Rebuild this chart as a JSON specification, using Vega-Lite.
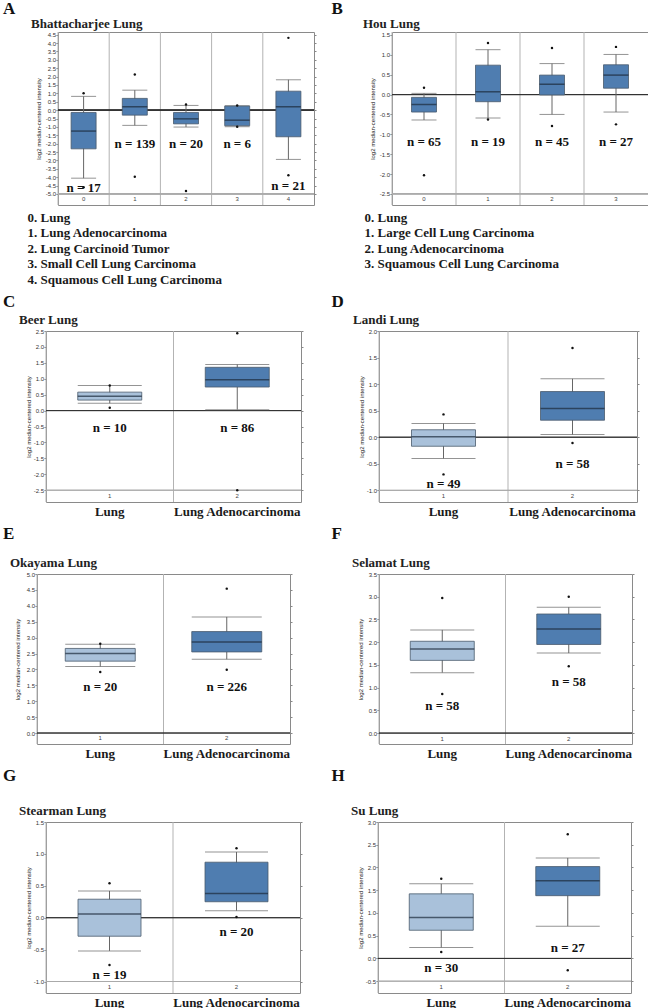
{
"$schema": "https://vega.github.io/schema/vega-lite/v6.json",
"background": "white",
"padding": {"left": 3, "top": 0, "right": 0, "bottom": 0},
"columns": 1,
"align": "none",
"spacing": 5,
"config": {
 "view": {"stroke": "#8a8a8a", "strokeWidth": 1},
 "locale": {"number": {"decimal": ".", "thousands": ",", "grouping": [3], "currency": ["$", ""], "minus": "-"}},
 "axis": {"labelFont": "Liberation Sans", "titleFont": "Liberation Sans"}
},
"concat": [
{"hconcat": [
 {"title": {"text": "A", "anchor": "start", "font": "Liberation Serif", "fontSize": 17, "fontWeight": "bold", "color": "#111", "offset": -1},
  "spacing": 0,
  "hconcat": [
  {"width": 23, "height": 1, "view": {"stroke": null}, "data": {"values": []}, "mark": {"type": "point", "opacity": 0}, "encoding": {}},
  {
  "width": 256, "height": 173,
  "title": {"text": "Bhattacharjee Lung", "anchor": "start", "frame": "group", "dx": -27, "font": "Liberation Serif", "fontSize": 13, "fontWeight": "bold", "color": "#222", "offset": 1},
  "data": {"values": [
   {"cat": "Lung", "code": "0", "q1": -2.31, "q3": -0.14, "med": -1.25, "lo": -4.06, "hi": 0.82, "mn": -4.6, "mx": 1.01, "nlabel": "n = 17", "ny": -4.63},
   {"cat": "Lung Adenocarcinoma", "code": "1", "q1": -0.30, "q3": 0.70, "med": 0.20, "lo": -0.91, "hi": 1.19, "mn": -3.98, "mx": 2.13, "nlabel": "n = 139", "ny": -2.0},
   {"cat": "Lung Carcinoid Tumor", "code": "2", "q1": -0.82, "q3": -0.14, "med": -0.52, "lo": -1.01, "hi": 0.28, "mn": -4.83, "mx": 0.34, "nlabel": "n = 20", "ny": -2.0},
   {"cat": "Small Cell Lung Carcinoma", "code": "3", "q1": -0.93, "q3": 0.24, "med": -0.60, "lo": -0.99, "hi": 0.26, "mn": -0.99, "mx": 0.28, "nlabel": "n = 6", "ny": -2.0},
   {"cat": "Squamous Cell Lung Carcinoma", "code": "4", "q1": -1.59, "q3": 1.13, "med": 0.20, "lo": -2.94, "hi": 1.81, "mn": -3.88, "mx": 4.31, "nlabel": "n = 21", "ny": -4.5}
  ]},
  "resolve": {"axis": {"x": "independent", "y": "independent"}},
  "layer": [
   {"mark": {"type": "rule", "color": "#b3b3b3", "strokeWidth": 1}, "encoding": {"x": {"field": "cat", "type": "nominal", "sort": null, "bandPosition": 0, "scale": {"type": "band", "paddingInner": 0, "paddingOuter": 0}, "axis": null}}},
   {"mark": {"type": "rule", "color": "#aaaaaa", "strokeWidth": 1}, "encoding": {"y": {"datum": -5.0, "type": "quantitative", "axis": null}}},
   {"mark": {"type": "rule", "color": "#333333", "strokeWidth": 1}, "encoding": {"y": {"datum": 0, "type": "quantitative", "axis": null}}},
   {"mark": {"type": "rule", "color": "#666666", "strokeWidth": 1}, "encoding": {"x": {"field": "cat", "type": "nominal", "sort": null, "scale": {"type": "band", "paddingInner": 0, "paddingOuter": 0}, "axis": null}, "y": {"field": "lo", "type": "quantitative", "axis": {"orient": "right", "values": [4.5,4,3.5,3,2.5,2,1.5,1,0.5,0,-0.5,-1,-1.5,-2,-2.5,-3,-3.5,-4,-4.5,-5], "labels": false, "tickSize": 2, "tickColor": "#888888", "domain": false, "grid": false, "title": null}}, "y2": {"field": "hi"}}},
   {"mark": {"type": "tick", "color": "#666666", "thickness": 1, "size": 25}, "encoding": {"x": {"field": "cat", "type": "nominal", "sort": null, "scale": {"type": "band", "paddingInner": 0, "paddingOuter": 0}, "axis": null}, "y": {"field": "hi", "type": "quantitative", "axis": null}}},
   {"mark": {"type": "tick", "color": "#666666", "thickness": 1, "size": 25}, "encoding": {"x": {"field": "cat", "type": "nominal", "sort": null, "scale": {"type": "band", "paddingInner": 0, "paddingOuter": 0}, "axis": null}, "y": {"field": "lo", "type": "quantitative", "axis": null}}},
   {"mark": {"type": "bar", "width": 25, "fill": "#4f7db0", "stroke": "#4a5a6c", "strokeWidth": 0.8}, "encoding": {"x": {"field": "cat", "type": "nominal", "sort": null, "scale": {"type": "band", "paddingInner": 0, "paddingOuter": 0}, "axis": {"labels": false, "ticks": false, "domain": false, "title": ["0. Lung", "1. Lung Adenocarcinoma", "2. Lung Carcinoid Tumor", "3. Small Cell Lung Carcinoma", "4. Squamous Cell Lung Carcinoma"], "titleAnchor": "start", "titleAlign": "left", "titleBaseline": "top", "titleX": -31, "titleY": 6, "titleFont": "Liberation Serif", "titleFontSize": 13, "titleFontWeight": "bold", "titleColor": "#1a1a1a", "titleLineHeight": 15.6}}, "y": {"field": "q1", "type": "quantitative", "scale": {"domain": [-5.66, 4.66], "nice": false, "zero": false}, "axis": {"orient": "left", "values": [4.5,4,3.5,3,2.5,2,1.5,1,0.5,0,-0.5,-1,-1.5,-2,-2.5,-3,-3.5,-4,-4.5,-5], "format": ".1f", "labelFontSize": 6, "labelColor": "#333333", "labelPadding": 0.5, "tickSize": 2, "tickColor": "#777777", "domain": false, "grid": false, "title": "log2 median-centered intensity", "titleFontSize": 6, "titleFontWeight": "normal", "titleColor": "#222222", "titlePadding": 4}}, "y2": {"field": "q3"}}},
   {"mark": {"type": "tick", "color": "#1c2b3c", "thickness": 1.5, "size": 25}, "encoding": {"x": {"field": "cat", "type": "nominal", "sort": null, "scale": {"type": "band", "paddingInner": 0, "paddingOuter": 0}, "axis": null}, "y": {"field": "med", "type": "quantitative", "axis": null}}},
   {"mark": {"type": "point", "filled": true, "color": "#111111", "size": 6, "opacity": 1}, "encoding": {"x": {"field": "cat", "type": "nominal", "sort": null, "scale": {"type": "band", "paddingInner": 0, "paddingOuter": 0}, "axis": null}, "y": {"field": "mx", "type": "quantitative", "axis": null}}},
   {"mark": {"type": "point", "filled": true, "color": "#111111", "size": 6, "opacity": 1}, "encoding": {"x": {"field": "cat", "type": "nominal", "sort": null, "scale": {"type": "band", "paddingInner": 0, "paddingOuter": 0}, "axis": null}, "y": {"field": "mn", "type": "quantitative", "axis": null}}},
   {"mark": {"type": "text", "font": "Liberation Serif", "fontSize": 13, "fontWeight": "bold", "color": "#111111", "baseline": "middle"}, "encoding": {"x": {"field": "cat", "type": "nominal", "sort": null, "scale": {"type": "band", "paddingInner": 0, "paddingOuter": 0}, "axis": null}, "y": {"field": "ny", "type": "quantitative", "axis": null}, "text": {"field": "nlabel"}}},
   {"mark": {"type": "text", "font": "Liberation Sans", "fontSize": 6, "color": "#444444", "baseline": "middle"}, "encoding": {"x": {"field": "cat", "type": "nominal", "sort": null, "scale": {"type": "band", "paddingInner": 0, "paddingOuter": 0}, "axis": null}, "y": {"datum": -5.33, "type": "quantitative", "axis": null}, "text": {"field": "code"}}}
  ]}]},
 {"title": {"text": "B", "anchor": "start", "font": "Liberation Serif", "fontSize": 17, "fontWeight": "bold", "color": "#111", "offset": -1, "dx": -31},
  "vconcat": [{
  "width": 256, "height": 173,
  "title": {"text": "Hou Lung", "anchor": "start", "frame": "group", "dx": -29, "font": "Liberation Serif", "fontSize": 13, "fontWeight": "bold", "color": "#222", "offset": 1},
  "data": {"values": [
   {"cat": "Lung", "code": "0", "q1": -0.44, "q3": -0.07, "med": -0.25, "lo": -0.64, "hi": 0.03, "mn": -2.03, "mx": 0.17, "nlabel": "n = 65", "ny": -1.19},
   {"cat": "Large Cell Lung Carcinoma", "code": "1", "q1": -0.18, "q3": 0.74, "med": 0.07, "lo": -0.59, "hi": 1.13, "mn": -0.63, "mx": 1.30, "nlabel": "n = 19", "ny": -1.19},
   {"cat": "Lung Adenocarcinoma", "code": "2", "q1": -0.01, "q3": 0.49, "med": 0.26, "lo": -0.50, "hi": 0.78, "mn": -0.79, "mx": 1.17, "nlabel": "n = 45", "ny": -1.19},
   {"cat": "Squamous Cell Lung Carcinoma", "code": "3", "q1": 0.16, "q3": 0.75, "med": 0.49, "lo": -0.44, "hi": 1.01, "mn": -0.75, "mx": 1.20, "nlabel": "n = 27", "ny": -1.19}
  ]},
  "resolve": {"axis": {"x": "independent", "y": "independent"}},
  "layer": [
   {"mark": {"type": "rule", "color": "#b3b3b3", "strokeWidth": 1}, "encoding": {"x": {"field": "cat", "type": "nominal", "sort": null, "bandPosition": 0, "scale": {"type": "band", "paddingInner": 0, "paddingOuter": 0}, "axis": null}}},
   {"mark": {"type": "rule", "color": "#aaaaaa", "strokeWidth": 1}, "encoding": {"y": {"datum": -2.5, "type": "quantitative", "axis": null}}},
   {"mark": {"type": "rule", "color": "#333333", "strokeWidth": 1}, "encoding": {"y": {"datum": 0, "type": "quantitative", "axis": null}}},
   {"mark": {"type": "rule", "color": "#666666", "strokeWidth": 1}, "encoding": {"x": {"field": "cat", "type": "nominal", "sort": null, "scale": {"type": "band", "paddingInner": 0, "paddingOuter": 0}, "axis": null}, "y": {"field": "lo", "type": "quantitative", "axis": {"orient": "right", "values": [1.5,1,0.5,0,-0.5,-1,-1.5,-2,-2.5], "labels": false, "tickSize": 2, "tickColor": "#888888", "domain": false, "grid": false, "title": null}}, "y2": {"field": "hi"}}},
   {"mark": {"type": "tick", "color": "#666666", "thickness": 1, "size": 25}, "encoding": {"x": {"field": "cat", "type": "nominal", "sort": null, "scale": {"type": "band", "paddingInner": 0, "paddingOuter": 0}, "axis": null}, "y": {"field": "hi", "type": "quantitative", "axis": null}}},
   {"mark": {"type": "tick", "color": "#666666", "thickness": 1, "size": 25}, "encoding": {"x": {"field": "cat", "type": "nominal", "sort": null, "scale": {"type": "band", "paddingInner": 0, "paddingOuter": 0}, "axis": null}, "y": {"field": "lo", "type": "quantitative", "axis": null}}},
   {"mark": {"type": "bar", "width": 25, "fill": "#4f7db0", "stroke": "#4a5a6c", "strokeWidth": 0.8}, "encoding": {"x": {"field": "cat", "type": "nominal", "sort": null, "scale": {"type": "band", "paddingInner": 0, "paddingOuter": 0}, "axis": {"labels": false, "ticks": false, "domain": false, "title": ["0. Lung", "1. Large Cell Lung Carcinoma", "2. Lung Adenocarcinoma", "3. Squamous Cell Lung Carcinoma"], "titleAnchor": "start", "titleAlign": "left", "titleBaseline": "top", "titleX": -28, "titleY": 6, "titleFont": "Liberation Serif", "titleFontSize": 13, "titleFontWeight": "bold", "titleColor": "#1a1a1a", "titleLineHeight": 15.6}}, "y": {"field": "q1", "type": "quantitative", "scale": {"domain": [-2.78, 1.575], "nice": false, "zero": false}, "axis": {"orient": "left", "values": [1.5,1,0.5,0,-0.5,-1,-1.5,-2,-2.5], "format": ".1f", "labelFontSize": 6, "labelColor": "#333333", "labelPadding": 0.5, "tickSize": 2, "tickColor": "#777777", "domain": false, "grid": false, "title": "log2 median-centered intensity", "titleFontSize": 6, "titleFontWeight": "normal", "titleColor": "#222222", "titlePadding": 4}}, "y2": {"field": "q3"}}},
   {"mark": {"type": "tick", "color": "#1c2b3c", "thickness": 1.5, "size": 25}, "encoding": {"x": {"field": "cat", "type": "nominal", "sort": null, "scale": {"type": "band", "paddingInner": 0, "paddingOuter": 0}, "axis": null}, "y": {"field": "med", "type": "quantitative", "axis": null}}},
   {"mark": {"type": "point", "filled": true, "color": "#111111", "size": 6, "opacity": 1}, "encoding": {"x": {"field": "cat", "type": "nominal", "sort": null, "scale": {"type": "band", "paddingInner": 0, "paddingOuter": 0}, "axis": null}, "y": {"field": "mx", "type": "quantitative", "axis": null}}},
   {"mark": {"type": "point", "filled": true, "color": "#111111", "size": 6, "opacity": 1}, "encoding": {"x": {"field": "cat", "type": "nominal", "sort": null, "scale": {"type": "band", "paddingInner": 0, "paddingOuter": 0}, "axis": null}, "y": {"field": "mn", "type": "quantitative", "axis": null}}},
   {"mark": {"type": "text", "font": "Liberation Serif", "fontSize": 13, "fontWeight": "bold", "color": "#111111", "baseline": "middle"}, "encoding": {"x": {"field": "cat", "type": "nominal", "sort": null, "scale": {"type": "band", "paddingInner": 0, "paddingOuter": 0}, "axis": null}, "y": {"field": "ny", "type": "quantitative", "axis": null}, "text": {"field": "nlabel"}}},
   {"mark": {"type": "text", "font": "Liberation Sans", "fontSize": 6, "color": "#444444", "baseline": "middle"}, "encoding": {"x": {"field": "cat", "type": "nominal", "sort": null, "scale": {"type": "band", "paddingInner": 0, "paddingOuter": 0}, "axis": null}, "y": {"datum": -2.64, "type": "quantitative", "axis": null}, "text": {"field": "code"}}}
  ]}]}
], "spacing": 14},
{"hconcat": [
 {"title": {"text": "C", "anchor": "start", "font": "Liberation Serif", "fontSize": 17, "fontWeight": "bold", "color": "#111", "offset": 2.6},
  "spacing": 0,
  "hconcat": [
  {"width": 15, "height": 1, "view": {"stroke": null}, "data": {"values": []}, "mark": {"type": "point", "opacity": 0}, "encoding": {}},
  {
  "width": 255, "height": 171,
  "title": {"text": "Beer Lung", "anchor": "start", "frame": "group", "dx": -27, "font": "Liberation Serif", "fontSize": 13, "fontWeight": "bold", "color": "#222", "offset": 1},
  "data": {"values": [
   {"cat": "Lung", "code": "1", "q1": 0.33, "q3": 0.58, "med": 0.45, "lo": 0.23, "hi": 0.79, "mn": 0.09, "mx": 0.79, "nlabel": "n = 10", "ny": -0.54},
   {"cat": "Lung Adenocarcinoma", "code": "2", "q1": 0.74, "q3": 1.36, "med": 0.97, "lo": 0.03, "hi": 1.45, "mn": -2.5, "mx": 2.43, "nlabel": "n = 86", "ny": -0.54}
  ]},
  "resolve": {"axis": {"x": "independent", "y": "independent"}},
  "layer": [
   {"mark": {"type": "rule", "color": "#b3b3b3", "strokeWidth": 1}, "encoding": {"x": {"field": "cat", "type": "nominal", "sort": null, "bandPosition": 0, "scale": {"type": "band", "paddingInner": 0, "paddingOuter": 0}, "axis": null}}},
   {"mark": {"type": "rule", "color": "#aaaaaa", "strokeWidth": 1}, "encoding": {"y": {"datum": -2.5, "type": "quantitative", "axis": null}}},
   {"mark": {"type": "rule", "color": "#333333", "strokeWidth": 1}, "encoding": {"y": {"datum": 0, "type": "quantitative", "axis": null}}},
   {"mark": {"type": "rule", "color": "#666666", "strokeWidth": 1}, "encoding": {"x": {"field": "cat", "type": "nominal", "sort": null, "scale": {"type": "band", "paddingInner": 0, "paddingOuter": 0}, "axis": null}, "y": {"field": "lo", "type": "quantitative", "axis": {"orient": "right", "values": [2.5,2,1.5,1,0.5,0,-0.5,-1,-1.5,-2,-2.5], "labels": false, "tickSize": 2, "tickColor": "#888888", "domain": false, "grid": false, "title": null}}, "y2": {"field": "hi"}}},
   {"mark": {"type": "tick", "color": "#666666", "thickness": 1, "size": 64}, "encoding": {"x": {"field": "cat", "type": "nominal", "sort": null, "scale": {"type": "band", "paddingInner": 0, "paddingOuter": 0}, "axis": null}, "y": {"field": "hi", "type": "quantitative", "axis": null}}},
   {"mark": {"type": "tick", "color": "#666666", "thickness": 1, "size": 64}, "encoding": {"x": {"field": "cat", "type": "nominal", "sort": null, "scale": {"type": "band", "paddingInner": 0, "paddingOuter": 0}, "axis": null}, "y": {"field": "lo", "type": "quantitative", "axis": null}}},
   {"mark": {"type": "bar", "width": 64, "stroke": "#4a5a6c", "strokeWidth": 0.8}, "encoding": {"fill": {"field": "cat", "type": "nominal", "scale": {"domain": ["Lung", "Lung Adenocarcinoma"], "range": ["#a9c1da", "#4f7db0"]}, "legend": null}, "x": {"field": "cat", "type": "nominal", "sort": null, "scale": {"type": "band", "paddingInner": 0, "paddingOuter": 0}, "axis": {"title": null, "orient": "bottom", "ticks": false, "domain": false, "labelAngle": 0, "labelFont": "Liberation Serif", "labelFontSize": 13, "labelFontWeight": "bold", "labelColor": "#1a1a1a", "labelPadding": 3, "labelBaseline": "top"}}, "y": {"field": "q1", "type": "quantitative", "scale": {"domain": [-2.87, 2.5], "nice": false, "zero": false}, "axis": {"orient": "left", "values": [2.5,2,1.5,1,0.5,0,-0.5,-1,-1.5,-2,-2.5], "format": ".1f", "labelFontSize": 6, "labelColor": "#333333", "labelPadding": 0.5, "tickSize": 2, "tickColor": "#777777", "domain": false, "grid": false, "title": "log2 median-centered intensity", "titleFontSize": 6, "titleFontWeight": "normal", "titleColor": "#222222", "titlePadding": 2}}, "y2": {"field": "q3"}}},
   {"mark": {"type": "tick", "color": "#1c2b3c", "thickness": 1.5, "size": 64}, "encoding": {"x": {"field": "cat", "type": "nominal", "sort": null, "scale": {"type": "band", "paddingInner": 0, "paddingOuter": 0}, "axis": null}, "y": {"field": "med", "type": "quantitative", "axis": null}}},
   {"mark": {"type": "point", "filled": true, "color": "#111111", "size": 6, "opacity": 1}, "encoding": {"x": {"field": "cat", "type": "nominal", "sort": null, "scale": {"type": "band", "paddingInner": 0, "paddingOuter": 0}, "axis": null}, "y": {"field": "mx", "type": "quantitative", "axis": null}}},
   {"mark": {"type": "point", "filled": true, "color": "#111111", "size": 6, "opacity": 1}, "encoding": {"x": {"field": "cat", "type": "nominal", "sort": null, "scale": {"type": "band", "paddingInner": 0, "paddingOuter": 0}, "axis": null}, "y": {"field": "mn", "type": "quantitative", "axis": null}}},
   {"mark": {"type": "text", "font": "Liberation Serif", "fontSize": 13, "fontWeight": "bold", "color": "#111111", "baseline": "middle"}, "encoding": {"x": {"field": "cat", "type": "nominal", "sort": null, "scale": {"type": "band", "paddingInner": 0, "paddingOuter": 0}, "axis": null}, "y": {"field": "ny", "type": "quantitative", "axis": null}, "text": {"field": "nlabel"}}},
   {"mark": {"type": "text", "font": "Liberation Sans", "fontSize": 6, "color": "#444444", "baseline": "middle"}, "encoding": {"x": {"field": "cat", "type": "nominal", "sort": null, "scale": {"type": "band", "paddingInner": 0, "paddingOuter": 0}, "axis": null}, "y": {"datum": -2.69, "type": "quantitative", "axis": null}, "text": {"field": "code"}}}
  ]}]},
 {"title": {"text": "D", "anchor": "start", "font": "Liberation Serif", "fontSize": 17, "fontWeight": "bold", "color": "#111", "offset": 2.6, "dx": -21},
  "vconcat": [{
  "width": 258, "height": 171,
  "title": {"text": "Landi Lung", "anchor": "start", "frame": "group", "dx": -26, "font": "Liberation Serif", "fontSize": 13, "fontWeight": "bold", "color": "#222", "offset": 1},
  "data": {"values": [
   {"cat": "Lung", "code": "1", "q1": -0.17, "q3": 0.14, "med": 0.01, "lo": -0.40, "hi": 0.26, "mn": -0.70, "mx": 0.43, "nlabel": "n = 49", "ny": -0.89},
   {"cat": "Lung Adenocarcinoma", "code": "2", "q1": 0.32, "q3": 0.86, "med": 0.54, "lo": 0.05, "hi": 1.10, "mn": -0.11, "mx": 1.68, "nlabel": "n = 58", "ny": -0.51}
  ]},
  "resolve": {"axis": {"x": "independent", "y": "independent"}},
  "layer": [
   {"mark": {"type": "rule", "color": "#b3b3b3", "strokeWidth": 1}, "encoding": {"x": {"field": "cat", "type": "nominal", "sort": null, "bandPosition": 0, "scale": {"type": "band", "paddingInner": 0, "paddingOuter": 0}, "axis": null}}},
   {"mark": {"type": "rule", "color": "#aaaaaa", "strokeWidth": 1}, "encoding": {"y": {"datum": -1.0, "type": "quantitative", "axis": null}}},
   {"mark": {"type": "rule", "color": "#333333", "strokeWidth": 1}, "encoding": {"y": {"datum": 0, "type": "quantitative", "axis": null}}},
   {"mark": {"type": "rule", "color": "#666666", "strokeWidth": 1}, "encoding": {"x": {"field": "cat", "type": "nominal", "sort": null, "scale": {"type": "band", "paddingInner": 0, "paddingOuter": 0}, "axis": null}, "y": {"field": "lo", "type": "quantitative", "axis": {"orient": "right", "values": [2,1.5,1,0.5,0,-0.5,-1], "labels": false, "tickSize": 2, "tickColor": "#888888", "domain": false, "grid": false, "title": null}}, "y2": {"field": "hi"}}},
   {"mark": {"type": "tick", "color": "#666666", "thickness": 1, "size": 64}, "encoding": {"x": {"field": "cat", "type": "nominal", "sort": null, "scale": {"type": "band", "paddingInner": 0, "paddingOuter": 0}, "axis": null}, "y": {"field": "hi", "type": "quantitative", "axis": null}}},
   {"mark": {"type": "tick", "color": "#666666", "thickness": 1, "size": 64}, "encoding": {"x": {"field": "cat", "type": "nominal", "sort": null, "scale": {"type": "band", "paddingInner": 0, "paddingOuter": 0}, "axis": null}, "y": {"field": "lo", "type": "quantitative", "axis": null}}},
   {"mark": {"type": "bar", "width": 64, "stroke": "#4a5a6c", "strokeWidth": 0.8}, "encoding": {"fill": {"field": "cat", "type": "nominal", "scale": {"domain": ["Lung", "Lung Adenocarcinoma"], "range": ["#a9c1da", "#4f7db0"]}, "legend": null}, "x": {"field": "cat", "type": "nominal", "sort": null, "scale": {"type": "band", "paddingInner": 0, "paddingOuter": 0}, "axis": {"title": null, "orient": "bottom", "ticks": false, "domain": false, "labelAngle": 0, "labelFont": "Liberation Serif", "labelFontSize": 13, "labelFontWeight": "bold", "labelColor": "#1a1a1a", "labelPadding": 3, "labelBaseline": "top"}}, "y": {"field": "q1", "type": "quantitative", "scale": {"domain": [-1.22, 2.0], "nice": false, "zero": false}, "axis": {"orient": "left", "values": [2,1.5,1,0.5,0,-0.5,-1], "format": ".1f", "labelFontSize": 6, "labelColor": "#333333", "labelPadding": 0.5, "tickSize": 2, "tickColor": "#777777", "domain": false, "grid": false, "title": "log2 median-centered intensity", "titleFontSize": 6, "titleFontWeight": "normal", "titleColor": "#222222", "titlePadding": 2}}, "y2": {"field": "q3"}}},
   {"mark": {"type": "tick", "color": "#1c2b3c", "thickness": 1.5, "size": 64}, "encoding": {"x": {"field": "cat", "type": "nominal", "sort": null, "scale": {"type": "band", "paddingInner": 0, "paddingOuter": 0}, "axis": null}, "y": {"field": "med", "type": "quantitative", "axis": null}}},
   {"mark": {"type": "point", "filled": true, "color": "#111111", "size": 6, "opacity": 1}, "encoding": {"x": {"field": "cat", "type": "nominal", "sort": null, "scale": {"type": "band", "paddingInner": 0, "paddingOuter": 0}, "axis": null}, "y": {"field": "mx", "type": "quantitative", "axis": null}}},
   {"mark": {"type": "point", "filled": true, "color": "#111111", "size": 6, "opacity": 1}, "encoding": {"x": {"field": "cat", "type": "nominal", "sort": null, "scale": {"type": "band", "paddingInner": 0, "paddingOuter": 0}, "axis": null}, "y": {"field": "mn", "type": "quantitative", "axis": null}}},
   {"mark": {"type": "text", "font": "Liberation Serif", "fontSize": 13, "fontWeight": "bold", "color": "#111111", "baseline": "middle"}, "encoding": {"x": {"field": "cat", "type": "nominal", "sort": null, "scale": {"type": "band", "paddingInner": 0, "paddingOuter": 0}, "axis": null}, "y": {"field": "ny", "type": "quantitative", "axis": null}, "text": {"field": "nlabel"}}},
   {"mark": {"type": "text", "font": "Liberation Sans", "fontSize": 6, "color": "#444444", "baseline": "middle"}, "encoding": {"x": {"field": "cat", "type": "nominal", "sort": null, "scale": {"type": "band", "paddingInner": 0, "paddingOuter": 0}, "axis": null}, "y": {"datum": -1.11, "type": "quantitative", "axis": null}, "text": {"field": "code"}}}
  ]}]}
], "spacing": 27},
{"hconcat": [
 {"title": {"text": "E", "anchor": "start", "font": "Liberation Serif", "fontSize": 17, "fontWeight": "bold", "color": "#111", "offset": 14},
  "spacing": 0,
  "hconcat": [
  {"width": 6, "height": 1, "view": {"stroke": null}, "data": {"values": []}, "mark": {"type": "point", "opacity": 0}, "encoding": {}},
  {
  "width": 253, "height": 170,
  "title": {"text": "Okayama Lung", "anchor": "start", "frame": "group", "dx": -27, "font": "Liberation Serif", "fontSize": 13, "fontWeight": "bold", "color": "#222", "offset": 1},
  "data": {"values": [
   {"cat": "Lung", "code": "1", "q1": 2.26, "q3": 2.66, "med": 2.5, "lo": 2.09, "hi": 2.79, "mn": 1.92, "mx": 2.81, "nlabel": "n = 20", "ny": 1.44},
   {"cat": "Lung Adenocarcinoma", "code": "2", "q1": 2.55, "q3": 3.19, "med": 2.86, "lo": 2.32, "hi": 3.65, "mn": 1.99, "mx": 4.54, "nlabel": "n = 226", "ny": 1.44}
  ]},
  "resolve": {"axis": {"x": "independent", "y": "independent"}},
  "layer": [
   {"mark": {"type": "rule", "color": "#b3b3b3", "strokeWidth": 1}, "encoding": {"x": {"field": "cat", "type": "nominal", "sort": null, "bandPosition": 0, "scale": {"type": "band", "paddingInner": 0, "paddingOuter": 0}, "axis": null}}},
   {"mark": {"type": "rule", "color": "#333333", "strokeWidth": 1}, "encoding": {"y": {"datum": 0, "type": "quantitative", "axis": null}}},
   {"mark": {"type": "rule", "color": "#666666", "strokeWidth": 1}, "encoding": {"x": {"field": "cat", "type": "nominal", "sort": null, "scale": {"type": "band", "paddingInner": 0, "paddingOuter": 0}, "axis": null}, "y": {"field": "lo", "type": "quantitative", "axis": {"orient": "right", "values": [5,4.5,4,3.5,3,2.5,2,1.5,1,0.5,0], "labels": false, "tickSize": 2, "tickColor": "#888888", "domain": false, "grid": false, "title": null}}, "y2": {"field": "hi"}}},
   {"mark": {"type": "tick", "color": "#666666", "thickness": 1, "size": 70}, "encoding": {"x": {"field": "cat", "type": "nominal", "sort": null, "scale": {"type": "band", "paddingInner": 0, "paddingOuter": 0}, "axis": null}, "y": {"field": "hi", "type": "quantitative", "axis": null}}},
   {"mark": {"type": "tick", "color": "#666666", "thickness": 1, "size": 70}, "encoding": {"x": {"field": "cat", "type": "nominal", "sort": null, "scale": {"type": "band", "paddingInner": 0, "paddingOuter": 0}, "axis": null}, "y": {"field": "lo", "type": "quantitative", "axis": null}}},
   {"mark": {"type": "bar", "width": 70, "stroke": "#4a5a6c", "strokeWidth": 0.8}, "encoding": {"fill": {"field": "cat", "type": "nominal", "scale": {"domain": ["Lung", "Lung Adenocarcinoma"], "range": ["#a9c1da", "#4f7db0"]}, "legend": null}, "x": {"field": "cat", "type": "nominal", "sort": null, "scale": {"type": "band", "paddingInner": 0, "paddingOuter": 0}, "axis": {"title": null, "orient": "bottom", "ticks": false, "domain": false, "labelAngle": 0, "labelFont": "Liberation Serif", "labelFontSize": 13, "labelFontWeight": "bold", "labelColor": "#1a1a1a", "labelPadding": 3, "labelBaseline": "top"}}, "y": {"field": "q1", "type": "quantitative", "scale": {"domain": [-0.345, 5.0], "nice": false, "zero": false}, "axis": {"orient": "left", "values": [5,4.5,4,3.5,3,2.5,2,1.5,1,0.5,0], "format": ".1f", "labelFontSize": 6, "labelColor": "#333333", "labelPadding": 0.5, "tickSize": 2, "tickColor": "#777777", "domain": false, "grid": false, "title": "log2 median-centered intensity", "titleFontSize": 6, "titleFontWeight": "normal", "titleColor": "#222222", "titlePadding": 6}}, "y2": {"field": "q3"}}},
   {"mark": {"type": "tick", "color": "#1c2b3c", "thickness": 1.5, "size": 70}, "encoding": {"x": {"field": "cat", "type": "nominal", "sort": null, "scale": {"type": "band", "paddingInner": 0, "paddingOuter": 0}, "axis": null}, "y": {"field": "med", "type": "quantitative", "axis": null}}},
   {"mark": {"type": "point", "filled": true, "color": "#111111", "size": 6, "opacity": 1}, "encoding": {"x": {"field": "cat", "type": "nominal", "sort": null, "scale": {"type": "band", "paddingInner": 0, "paddingOuter": 0}, "axis": null}, "y": {"field": "mx", "type": "quantitative", "axis": null}}},
   {"mark": {"type": "point", "filled": true, "color": "#111111", "size": 6, "opacity": 1}, "encoding": {"x": {"field": "cat", "type": "nominal", "sort": null, "scale": {"type": "band", "paddingInner": 0, "paddingOuter": 0}, "axis": null}, "y": {"field": "mn", "type": "quantitative", "axis": null}}},
   {"mark": {"type": "text", "font": "Liberation Serif", "fontSize": 13, "fontWeight": "bold", "color": "#111111", "baseline": "middle"}, "encoding": {"x": {"field": "cat", "type": "nominal", "sort": null, "scale": {"type": "band", "paddingInner": 0, "paddingOuter": 0}, "axis": null}, "y": {"field": "ny", "type": "quantitative", "axis": null}, "text": {"field": "nlabel"}}},
   {"mark": {"type": "text", "font": "Liberation Sans", "fontSize": 6, "color": "#444444", "baseline": "middle"}, "encoding": {"x": {"field": "cat", "type": "nominal", "sort": null, "scale": {"type": "band", "paddingInner": 0, "paddingOuter": 0}, "axis": null}, "y": {"datum": -0.17, "type": "quantitative", "axis": null}, "text": {"field": "code"}}}
  ]}]},
 {"title": {"text": "F", "anchor": "start", "font": "Liberation Serif", "fontSize": 17, "fontWeight": "bold", "color": "#111", "offset": 14, "dx": -20},
  "vconcat": [{
  "width": 253, "height": 170,
  "title": {"text": "Selamat Lung", "anchor": "start", "frame": "group", "dx": -27, "font": "Liberation Serif", "fontSize": 13, "fontWeight": "bold", "color": "#222", "offset": 1},
  "data": {"values": [
   {"cat": "Lung", "code": "1", "q1": 1.60, "q3": 2.02, "med": 1.85, "lo": 1.33, "hi": 2.27, "mn": 0.86, "mx": 2.97, "nlabel": "n = 58", "ny": 0.59},
   {"cat": "Lung Adenocarcinoma", "code": "2", "q1": 1.95, "q3": 2.62, "med": 2.29, "lo": 1.76, "hi": 2.77, "mn": 1.47, "mx": 3.0, "nlabel": "n = 58", "ny": 1.12}
  ]},
  "resolve": {"axis": {"x": "independent", "y": "independent"}},
  "layer": [
   {"mark": {"type": "rule", "color": "#b3b3b3", "strokeWidth": 1}, "encoding": {"x": {"field": "cat", "type": "nominal", "sort": null, "bandPosition": 0, "scale": {"type": "band", "paddingInner": 0, "paddingOuter": 0}, "axis": null}}},
   {"mark": {"type": "rule", "color": "#333333", "strokeWidth": 1}, "encoding": {"y": {"datum": 0, "type": "quantitative", "axis": null}}},
   {"mark": {"type": "rule", "color": "#666666", "strokeWidth": 1}, "encoding": {"x": {"field": "cat", "type": "nominal", "sort": null, "scale": {"type": "band", "paddingInner": 0, "paddingOuter": 0}, "axis": null}, "y": {"field": "lo", "type": "quantitative", "axis": {"orient": "right", "values": [3.5,3,2.5,2,1.5,1,0.5,0], "labels": false, "tickSize": 2, "tickColor": "#888888", "domain": false, "grid": false, "title": null}}, "y2": {"field": "hi"}}},
   {"mark": {"type": "tick", "color": "#666666", "thickness": 1, "size": 64}, "encoding": {"x": {"field": "cat", "type": "nominal", "sort": null, "scale": {"type": "band", "paddingInner": 0, "paddingOuter": 0}, "axis": null}, "y": {"field": "hi", "type": "quantitative", "axis": null}}},
   {"mark": {"type": "tick", "color": "#666666", "thickness": 1, "size": 64}, "encoding": {"x": {"field": "cat", "type": "nominal", "sort": null, "scale": {"type": "band", "paddingInner": 0, "paddingOuter": 0}, "axis": null}, "y": {"field": "lo", "type": "quantitative", "axis": null}}},
   {"mark": {"type": "bar", "width": 64, "stroke": "#4a5a6c", "strokeWidth": 0.8}, "encoding": {"fill": {"field": "cat", "type": "nominal", "scale": {"domain": ["Lung", "Lung Adenocarcinoma"], "range": ["#a9c1da", "#4f7db0"]}, "legend": null}, "x": {"field": "cat", "type": "nominal", "sort": null, "scale": {"type": "band", "paddingInner": 0, "paddingOuter": 0}, "axis": {"title": null, "orient": "bottom", "ticks": false, "domain": false, "labelAngle": 0, "labelFont": "Liberation Serif", "labelFontSize": 13, "labelFontWeight": "bold", "labelColor": "#1a1a1a", "labelPadding": 3, "labelBaseline": "top"}}, "y": {"field": "q1", "type": "quantitative", "scale": {"domain": [-0.24, 3.5], "nice": false, "zero": false}, "axis": {"orient": "left", "values": [3.5,3,2.5,2,1.5,1,0.5,0], "format": ".1f", "labelFontSize": 6, "labelColor": "#333333", "labelPadding": 0.5, "tickSize": 2, "tickColor": "#777777", "domain": false, "grid": false, "title": "log2 median-centered intensity", "titleFontSize": 6, "titleFontWeight": "normal", "titleColor": "#222222", "titlePadding": 5}}, "y2": {"field": "q3"}}},
   {"mark": {"type": "tick", "color": "#1c2b3c", "thickness": 1.5, "size": 64}, "encoding": {"x": {"field": "cat", "type": "nominal", "sort": null, "scale": {"type": "band", "paddingInner": 0, "paddingOuter": 0}, "axis": null}, "y": {"field": "med", "type": "quantitative", "axis": null}}},
   {"mark": {"type": "point", "filled": true, "color": "#111111", "size": 6, "opacity": 1}, "encoding": {"x": {"field": "cat", "type": "nominal", "sort": null, "scale": {"type": "band", "paddingInner": 0, "paddingOuter": 0}, "axis": null}, "y": {"field": "mx", "type": "quantitative", "axis": null}}},
   {"mark": {"type": "point", "filled": true, "color": "#111111", "size": 6, "opacity": 1}, "encoding": {"x": {"field": "cat", "type": "nominal", "sort": null, "scale": {"type": "band", "paddingInner": 0, "paddingOuter": 0}, "axis": null}, "y": {"field": "mn", "type": "quantitative", "axis": null}}},
   {"mark": {"type": "text", "font": "Liberation Serif", "fontSize": 13, "fontWeight": "bold", "color": "#111111", "baseline": "middle"}, "encoding": {"x": {"field": "cat", "type": "nominal", "sort": null, "scale": {"type": "band", "paddingInner": 0, "paddingOuter": 0}, "axis": null}, "y": {"field": "ny", "type": "quantitative", "axis": null}, "text": {"field": "nlabel"}}},
   {"mark": {"type": "text", "font": "Liberation Sans", "fontSize": 6, "color": "#444444", "baseline": "middle"}, "encoding": {"x": {"field": "cat", "type": "nominal", "sort": null, "scale": {"type": "band", "paddingInner": 0, "paddingOuter": 0}, "axis": null}, "y": {"datum": -0.12, "type": "quantitative", "axis": null}, "text": {"field": "code"}}}
  ]}]}
], "spacing": 38},
{"hconcat": [
 {"title": {"text": "G", "anchor": "start", "font": "Liberation Serif", "fontSize": 17, "fontWeight": "bold", "color": "#111", "offset": 20},
  "spacing": 0,
  "hconcat": [
  {"width": 15, "height": 1, "view": {"stroke": null}, "data": {"values": []}, "mark": {"type": "point", "opacity": 0}, "encoding": {}},
  {
  "width": 254, "height": 171,
  "title": {"text": "Stearman Lung", "anchor": "start", "frame": "group", "dx": -27, "font": "Liberation Serif", "fontSize": 13, "fontWeight": "bold", "color": "#222", "offset": 1},
  "data": {"values": [
   {"cat": "Lung", "code": "1", "q1": -0.29, "q3": 0.29, "med": 0.06, "lo": -0.52, "hi": 0.42, "mn": -0.74, "mx": 0.54, "nlabel": "n = 19", "ny": -0.90},
   {"cat": "Lung Adenocarcinoma", "code": "2", "q1": 0.25, "q3": 0.87, "med": 0.38, "lo": 0.11, "hi": 1.03, "mn": 0.01, "mx": 1.09, "nlabel": "n = 20", "ny": -0.23}
  ]},
  "resolve": {"axis": {"x": "independent", "y": "independent"}},
  "layer": [
   {"mark": {"type": "rule", "color": "#b3b3b3", "strokeWidth": 1}, "encoding": {"x": {"field": "cat", "type": "nominal", "sort": null, "bandPosition": 0, "scale": {"type": "band", "paddingInner": 0, "paddingOuter": 0}, "axis": null}}},
   {"mark": {"type": "rule", "color": "#aaaaaa", "strokeWidth": 1}, "encoding": {"y": {"datum": -1.0, "type": "quantitative", "axis": null}}},
   {"mark": {"type": "rule", "color": "#333333", "strokeWidth": 1}, "encoding": {"y": {"datum": 0, "type": "quantitative", "axis": null}}},
   {"mark": {"type": "rule", "color": "#666666", "strokeWidth": 1}, "encoding": {"x": {"field": "cat", "type": "nominal", "sort": null, "scale": {"type": "band", "paddingInner": 0, "paddingOuter": 0}, "axis": null}, "y": {"field": "lo", "type": "quantitative", "axis": {"orient": "right", "values": [1.5,1,0.5,0,-0.5,-1], "labels": false, "tickSize": 2, "tickColor": "#888888", "domain": false, "grid": false, "title": null}}, "y2": {"field": "hi"}}},
   {"mark": {"type": "tick", "color": "#666666", "thickness": 1, "size": 63}, "encoding": {"x": {"field": "cat", "type": "nominal", "sort": null, "scale": {"type": "band", "paddingInner": 0, "paddingOuter": 0}, "axis": null}, "y": {"field": "hi", "type": "quantitative", "axis": null}}},
   {"mark": {"type": "tick", "color": "#666666", "thickness": 1, "size": 63}, "encoding": {"x": {"field": "cat", "type": "nominal", "sort": null, "scale": {"type": "band", "paddingInner": 0, "paddingOuter": 0}, "axis": null}, "y": {"field": "lo", "type": "quantitative", "axis": null}}},
   {"mark": {"type": "bar", "width": 63, "stroke": "#4a5a6c", "strokeWidth": 0.8}, "encoding": {"fill": {"field": "cat", "type": "nominal", "scale": {"domain": ["Lung", "Lung Adenocarcinoma"], "range": ["#a9c1da", "#4f7db0"]}, "legend": null}, "x": {"field": "cat", "type": "nominal", "sort": null, "scale": {"type": "band", "paddingInner": 0, "paddingOuter": 0}, "axis": {"title": null, "orient": "bottom", "ticks": false, "domain": false, "labelAngle": 0, "labelFont": "Liberation Serif", "labelFontSize": 13, "labelFontWeight": "bold", "labelColor": "#1a1a1a", "labelPadding": 3, "labelBaseline": "top"}}, "y": {"field": "q1", "type": "quantitative", "scale": {"domain": [-1.18, 1.5], "nice": false, "zero": false}, "axis": {"orient": "left", "values": [1.5,1,0.5,0,-0.5,-1], "format": ".1f", "labelFontSize": 6, "labelColor": "#333333", "labelPadding": 0.5, "tickSize": 2, "tickColor": "#777777", "domain": false, "grid": false, "title": "log2 median-centered intensity", "titleFontSize": 6, "titleFontWeight": "normal", "titleColor": "#222222", "titlePadding": 2}}, "y2": {"field": "q3"}}},
   {"mark": {"type": "tick", "color": "#1c2b3c", "thickness": 1.5, "size": 63}, "encoding": {"x": {"field": "cat", "type": "nominal", "sort": null, "scale": {"type": "band", "paddingInner": 0, "paddingOuter": 0}, "axis": null}, "y": {"field": "med", "type": "quantitative", "axis": null}}},
   {"mark": {"type": "point", "filled": true, "color": "#111111", "size": 6, "opacity": 1}, "encoding": {"x": {"field": "cat", "type": "nominal", "sort": null, "scale": {"type": "band", "paddingInner": 0, "paddingOuter": 0}, "axis": null}, "y": {"field": "mx", "type": "quantitative", "axis": null}}},
   {"mark": {"type": "point", "filled": true, "color": "#111111", "size": 6, "opacity": 1}, "encoding": {"x": {"field": "cat", "type": "nominal", "sort": null, "scale": {"type": "band", "paddingInner": 0, "paddingOuter": 0}, "axis": null}, "y": {"field": "mn", "type": "quantitative", "axis": null}}},
   {"mark": {"type": "text", "font": "Liberation Serif", "fontSize": 13, "fontWeight": "bold", "color": "#111111", "baseline": "middle"}, "encoding": {"x": {"field": "cat", "type": "nominal", "sort": null, "scale": {"type": "band", "paddingInner": 0, "paddingOuter": 0}, "axis": null}, "y": {"field": "ny", "type": "quantitative", "axis": null}, "text": {"field": "nlabel"}}},
   {"mark": {"type": "text", "font": "Liberation Sans", "fontSize": 6, "color": "#444444", "baseline": "middle"}, "encoding": {"x": {"field": "cat", "type": "nominal", "sort": null, "scale": {"type": "band", "paddingInner": 0, "paddingOuter": 0}, "axis": null}, "y": {"datum": -1.09, "type": "quantitative", "axis": null}, "text": {"field": "code"}}}
  ]}]},
 {"title": {"text": "H", "anchor": "start", "font": "Liberation Serif", "fontSize": 17, "fontWeight": "bold", "color": "#111", "offset": 20, "dx": -19},
  "vconcat": [{
  "width": 253, "height": 171,
  "title": {"text": "Su Lung", "anchor": "start", "frame": "group", "dx": -27, "font": "Liberation Serif", "fontSize": 13, "fontWeight": "bold", "color": "#222", "offset": 1},
  "data": {"values": [
   {"cat": "Lung", "code": "1", "q1": 0.62, "q3": 1.42, "med": 0.90, "lo": 0.24, "hi": 1.64, "mn": 0.14, "mx": 1.75, "nlabel": "n = 30", "ny": -0.20},
   {"cat": "Lung Adenocarcinoma", "code": "2", "q1": 1.38, "q3": 2.02, "med": 1.71, "lo": 0.71, "hi": 2.21, "mn": -0.26, "mx": 2.73, "nlabel": "n = 27", "ny": 0.24}
  ]},
  "resolve": {"axis": {"x": "independent", "y": "independent"}},
  "layer": [
   {"mark": {"type": "rule", "color": "#b3b3b3", "strokeWidth": 1}, "encoding": {"x": {"field": "cat", "type": "nominal", "sort": null, "bandPosition": 0, "scale": {"type": "band", "paddingInner": 0, "paddingOuter": 0}, "axis": null}}},
   {"mark": {"type": "rule", "color": "#aaaaaa", "strokeWidth": 1}, "encoding": {"y": {"datum": -0.5, "type": "quantitative", "axis": null}}},
   {"mark": {"type": "rule", "color": "#333333", "strokeWidth": 1}, "encoding": {"y": {"datum": 0, "type": "quantitative", "axis": null}}},
   {"mark": {"type": "rule", "color": "#666666", "strokeWidth": 1}, "encoding": {"x": {"field": "cat", "type": "nominal", "sort": null, "scale": {"type": "band", "paddingInner": 0, "paddingOuter": 0}, "axis": null}, "y": {"field": "lo", "type": "quantitative", "axis": {"orient": "right", "values": [3,2.5,2,1.5,1,0.5,0,-0.5], "labels": false, "tickSize": 2, "tickColor": "#888888", "domain": false, "grid": false, "title": null}}, "y2": {"field": "hi"}}},
   {"mark": {"type": "tick", "color": "#666666", "thickness": 1, "size": 64}, "encoding": {"x": {"field": "cat", "type": "nominal", "sort": null, "scale": {"type": "band", "paddingInner": 0, "paddingOuter": 0}, "axis": null}, "y": {"field": "hi", "type": "quantitative", "axis": null}}},
   {"mark": {"type": "tick", "color": "#666666", "thickness": 1, "size": 64}, "encoding": {"x": {"field": "cat", "type": "nominal", "sort": null, "scale": {"type": "band", "paddingInner": 0, "paddingOuter": 0}, "axis": null}, "y": {"field": "lo", "type": "quantitative", "axis": null}}},
   {"mark": {"type": "bar", "width": 64, "stroke": "#4a5a6c", "strokeWidth": 0.8}, "encoding": {"fill": {"field": "cat", "type": "nominal", "scale": {"domain": ["Lung", "Lung Adenocarcinoma"], "range": ["#a9c1da", "#4f7db0"]}, "legend": null}, "x": {"field": "cat", "type": "nominal", "sort": null, "scale": {"type": "band", "paddingInner": 0, "paddingOuter": 0}, "axis": {"title": null, "orient": "bottom", "ticks": false, "domain": false, "labelAngle": 0, "labelFont": "Liberation Serif", "labelFontSize": 13, "labelFontWeight": "bold", "labelColor": "#1a1a1a", "labelPadding": 3, "labelBaseline": "top"}}, "y": {"field": "q1", "type": "quantitative", "scale": {"domain": [-0.76, 3.0], "nice": false, "zero": false}, "axis": {"orient": "left", "values": [3,2.5,2,1.5,1,0.5,0,-0.5], "format": ".1f", "labelFontSize": 6, "labelColor": "#333333", "labelPadding": 0.5, "tickSize": 2, "tickColor": "#777777", "domain": false, "grid": false, "title": "log2 median-centered intensity", "titleFontSize": 6, "titleFontWeight": "normal", "titleColor": "#222222", "titlePadding": 2}}, "y2": {"field": "q3"}}},
   {"mark": {"type": "tick", "color": "#1c2b3c", "thickness": 1.5, "size": 64}, "encoding": {"x": {"field": "cat", "type": "nominal", "sort": null, "scale": {"type": "band", "paddingInner": 0, "paddingOuter": 0}, "axis": null}, "y": {"field": "med", "type": "quantitative", "axis": null}}},
   {"mark": {"type": "point", "filled": true, "color": "#111111", "size": 6, "opacity": 1}, "encoding": {"x": {"field": "cat", "type": "nominal", "sort": null, "scale": {"type": "band", "paddingInner": 0, "paddingOuter": 0}, "axis": null}, "y": {"field": "mx", "type": "quantitative", "axis": null}}},
   {"mark": {"type": "point", "filled": true, "color": "#111111", "size": 6, "opacity": 1}, "encoding": {"x": {"field": "cat", "type": "nominal", "sort": null, "scale": {"type": "band", "paddingInner": 0, "paddingOuter": 0}, "axis": null}, "y": {"field": "mn", "type": "quantitative", "axis": null}}},
   {"mark": {"type": "text", "font": "Liberation Serif", "fontSize": 13, "fontWeight": "bold", "color": "#111111", "baseline": "middle"}, "encoding": {"x": {"field": "cat", "type": "nominal", "sort": null, "scale": {"type": "band", "paddingInner": 0, "paddingOuter": 0}, "axis": null}, "y": {"field": "ny", "type": "quantitative", "axis": null}, "text": {"field": "nlabel"}}},
   {"mark": {"type": "text", "font": "Liberation Sans", "fontSize": 6, "color": "#444444", "baseline": "middle"}, "encoding": {"x": {"field": "cat", "type": "nominal", "sort": null, "scale": {"type": "band", "paddingInner": 0, "paddingOuter": 0}, "axis": null}, "y": {"datum": -0.63, "type": "quantitative", "axis": null}, "text": {"field": "code"}}}
  ]}]}
], "spacing": 28}
]
}
